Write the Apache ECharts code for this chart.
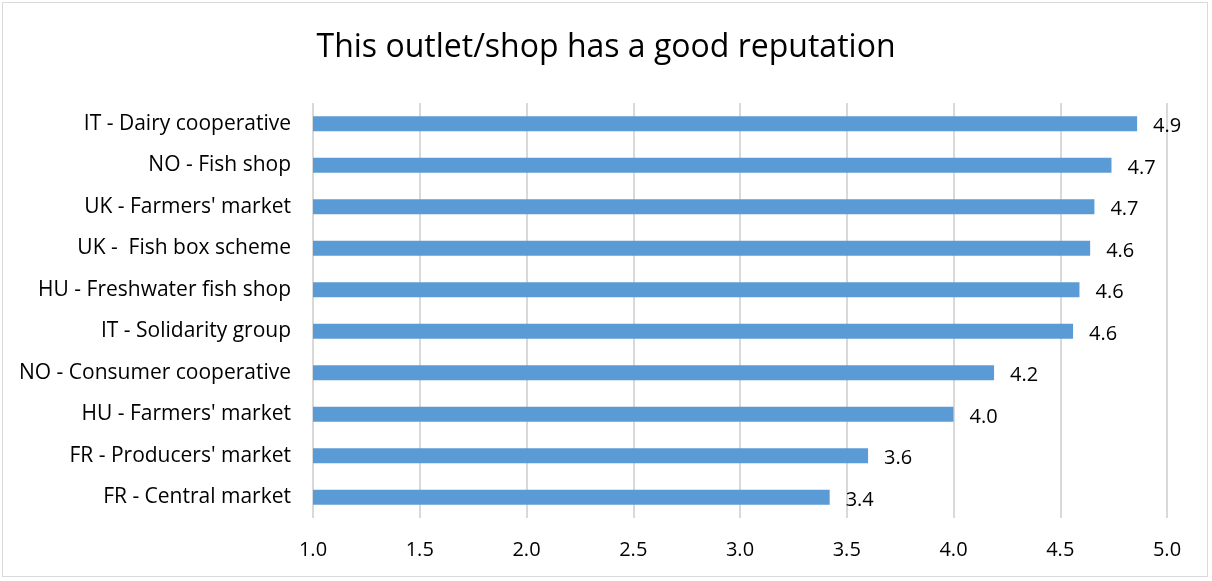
<!DOCTYPE html>
<html>
<head>
<meta charset="utf-8">
<script src="https://cdn.jsdelivr.net/npm/echarts@6/dist/echarts.min.js"></script>
<style>
html,body{margin:0;padding:0;background:#fff;}
#frame{position:absolute;left:2px;top:2px;width:1206px;height:575px;border:1px solid #d9d9d9;box-sizing:border-box;}
#chart{position:absolute;left:0;top:0;width:1212px;height:581px;}
</style>
</head>
<body>
<div id="frame"></div>
<div id="chart"></div>
<script>
const title = "This outlet/shop has a good reputation";
const categories = [
  "IT - Dairy cooperative",
  "NO - Fish shop",
  "UK - Farmers' market",
  "UK -  Fish box scheme",
  "HU - Freshwater fish shop",
  "IT - Solidarity group",
  "NO - Consumer cooperative",
  "HU - Farmers' market",
  "FR - Producers' market",
  "FR - Central market"
];
const values = [4.86, 4.74, 4.66, 4.64, 4.59, 4.56, 4.19, 4.00, 3.60, 3.42];
const axisMin = 1.0, axisMax = 5.0, axisStep = 0.5;

const font = "'Open Sans', 'Noto Sans', sans-serif";
const chart = echarts.init(document.getElementById('chart'));
chart.setOption({
  animation: false,
  title: {
    text: title, left: 'center', top: 27,
    textStyle: {fontFamily: font, fontSize: 32, fontWeight: 'normal', color: '#000'}
  },
  grid: {left: 313, right: 45, top: 103, bottom: 63, containLabel: false},
  xAxis: {
    type: 'value', min: axisMin, max: axisMax, interval: axisStep,
    axisLine: {show: false}, axisTick: {show: false},
    splitLine: {show: true, lineStyle: {color: '#d9d9d9', width: 2}},
    axisLabel: {fontFamily: font, fontSize: 20, color: '#000', margin: 22,
      formatter: v => v.toFixed(1)}
  },
  yAxis: {
    type: 'category', data: categories, inverse: true,
    axisLine: {show: false}, axisTick: {show: false},
    axisLabel: {fontFamily: font, fontSize: 21, color: '#000', margin: 22}
  },
  series: [{
    type: 'bar', data: values, barWidth: 15,
    itemStyle: {color: '#5b9bd5'},
    label: {show: true, position: 'right', distance: 16, offset: [0, 3],
      fontFamily: font, fontSize: 20, color: '#000',
      formatter: p => p.value.toFixed(1)}
  }]
});
</script>
</body>
</html>
